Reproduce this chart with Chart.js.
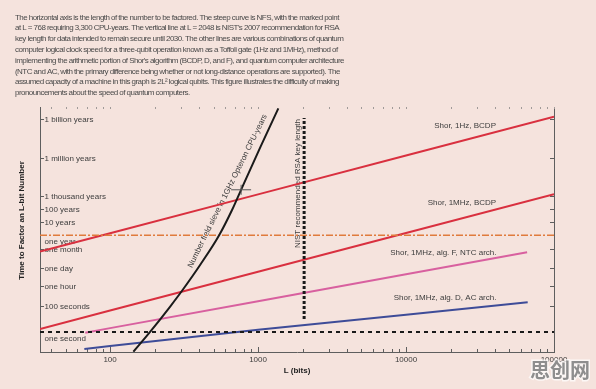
<!DOCTYPE html>
<html>
<head>
<meta charset="utf-8">
<script src="https://cdn.jsdelivr.net/npm/chart.js@4.4.1/dist/chart.umd.min.js"></script>
<style>
  html, body { margin: 0; padding: 0; background: #f5e3dd; }
</style>
</head>
<body>
<canvas id="quantumChart" width="596" height="389"></canvas>
<script>
// Caption above the plot
const captionLines = [
  'The horizontal axis is the length of the number to be factored. The steep curve is NFS, with the marked point',
  'at L = 768 requiring 3,300 CPU-years. The vertical line at L = 2048 is NIST\'s 2007 recommendation for RSA',
  'key length for data intended to remain secure until 2030. The other lines are various combinations of quantum',
  'computer logical clock speed for a three-qubit operation known as a Toffoli gate (1Hz and 1MHz), method of',
  'implementing the arithmetic portion of Shor\'s algorithm (BCDP, D, and F), and quantum computer architecture',
  '(NTC and AC, with the primary difference being whether or not long-distance operations are supported). The',
  'assumed capacity of a machine in this graph is 2L\u00b2 logical qubits. This figure illustrates the difficulty of making',
  'pronouncements about the speed of quantum computers.'
];

// Number field sieve curve (key length in bits, seconds)
const nfsBits = [143.7, 186.3, 254.7, 309, 405.7, 546.9, 667, 768, 1040, 1371];
const nfsSeconds = [0.029, 1.0, 93, 1770, 1.53e5, 3.25e7, 2.8e9, 1.04e11, 2.29e14, 2.15e17];

// Shor lines
const bcdpBits = [33.6, 100, 1000, 10000, 100000];
const shor1HzBCDP = [1.7e6, 4.5e7, 4.6e10, 4.7e13, 4.8e16];
const shor1MHzBCDP = [1.7, 45, 4.6e4, 4.7e7, 4.8e10];
const algFBits = [68, 100, 1000, 10000, 65800];
const shor1MHzAlgF = [0.87, 1.96, 240, 3.0e4, 1.5e6];
const algDBits = [67, 100, 1000, 10000, 66400];
const shor1MHzAlgD = [0.047, 0.08, 1.5, 21, 197];

// Reference lines
const nistBits = [2048, 2048];
const nistSeconds = [10, 3.8e16];
const fullRangeBits = [33.6, 100000];
const oneYearSeconds = [3.156e7, 3.156e7];
const oneSecondSeconds = [1, 1];
const markedBits = [768];
const markedSeconds = [1.04e11];

// Axis ticks
const xTickValues = [100, 1000, 10000, 100000];
const yTickValues = [3.156e16, 3.156e13, 3.156e10, 3.156e9, 3.156e8, 3.156e7, 2.63e6, 86400, 3600, 100, 1];
const yTickLabels = ['1 billion years', '1 million years', '1 thousand years', '100 years', '10 years',
  'one year', 'one month', 'one day', 'one hour', '100 seconds', 'one second'];
const labelsUnderLine = ['one year', 'one second'];

// Text next to the lines
const seriesNotes = [
  { text: 'Shor, 1Hz, BCDP', bits: 25060, seconds: 9.1e15 },
  { text: 'Shor, 1MHz, BCDP', bits: 23880, seconds: 1.0e10 },
  { text: 'Shor, 1MHz, alg. F, NTC arch.', bits: 17870, seconds: 1.48e6 },
  { text: 'Shor, 1MHz, alg. D, AC arch.', bits: 18360, seconds: 425 }
];

const FONT = "'Liberation Sans', Arial, sans-serif";
const TEXT = '#3c3c3c';
const AXIS = '#5e5e5e';

function pts(xs, ys) {
  return xs.map((v, i) => ({ x: v, y: ys[i] }));
}

function lineSet(xs, ys, color, extra) {
  return Object.assign({
    data: pts(xs, ys),
    showLine: true,
    borderColor: color,
    backgroundColor: color,
    borderWidth: 2,
    pointRadius: 0,
    fill: false
  }, extra || {});
}

// caption, inner ticks, right axis, y labels and notes
const decorPlugin = {
  id: 'decor',
  beforeDraw(chart) {
    const { ctx } = chart;
    ctx.save();
    ctx.font = '8px ' + FONT;
    ctx.fillStyle = '#4a4a4a';
    ctx.textBaseline = 'middle';
    ctx.textAlign = 'left';
    ctx.letterSpacing = '-0.55px';
    captionLines.forEach((line, i) => {
      ctx.fillText(line, 15, 17.4 + i * 10.8);
    });
    ctx.restore();
  },
  beforeDatasetsDraw(chart) {
    const { ctx, chartArea: a, scales: { x, y } } = chart;
    ctx.save();
    ctx.strokeStyle = AXIS;
    ctx.lineWidth = 1;
    ctx.beginPath();
    ctx.moveTo(a.right + 0.5, a.top);
    ctx.lineTo(a.right + 0.5, a.bottom);
    ctx.stroke();

    // log minor ticks, pointing into the plot
    for (let dec = 10; dec <= 100000; dec *= 10) {
      for (let k = 1; k <= 9; k++) {
        const v = dec * k;
        if (v < x.min || v > x.max) continue;
        const px = Math.round(x.getPixelForValue(v)) + 0.5;
        const len = k === 1 ? 5 : 3;
        ctx.strokeStyle = AXIS;
        ctx.beginPath();
        ctx.moveTo(px, a.bottom);
        ctx.lineTo(px, a.bottom - len);
        ctx.stroke();
        ctx.strokeStyle = '#a09a98';
        ctx.beginPath();
        ctx.moveTo(px, a.top);
        ctx.lineTo(px, a.top + 2);
        ctx.stroke();
      }
    }

    // y axis title, sitting a little above the middle as in the original
    ctx.save();
    ctx.translate(22, (a.top + a.bottom) / 2 - 9);
    ctx.rotate(-Math.PI / 2);
    ctx.font = 'bold 8px ' + FONT;
    ctx.fillStyle = '#222';
    ctx.textAlign = 'center';
    ctx.textBaseline = 'middle';
    ctx.fillText('Time to Factor an L-bit Number', 0, 0);
    ctx.restore();

    ctx.font = '8px ' + FONT;
    ctx.fillStyle = TEXT;
    ctx.textBaseline = 'middle';
    ctx.textAlign = 'left';
    yTickValues.forEach((v, i) => {
      const py = Math.round(y.getPixelForValue(v)) + 0.5;
      const under = labelsUnderLine.includes(yTickLabels[i]);
      if (!under) {
        ctx.strokeStyle = AXIS;
        ctx.beginPath();
        ctx.moveTo(a.left, py);
        ctx.lineTo(a.left + 4, py);
        ctx.moveTo(a.right, py);
        ctx.lineTo(a.right - 4, py);
        ctx.stroke();
      }
      ctx.fillText(yTickLabels[i], a.left + 4.5, under ? py + 6.5 : py);
    });

    ctx.textAlign = 'center';
    seriesNotes.forEach(n => {
      ctx.fillText(n.text, x.getPixelForValue(n.bits), y.getPixelForValue(n.seconds));
    });

    // rotated labels
    ctx.save();
    ctx.translate(x.getPixelForValue(622), y.getPixelForValue(8.3e10));
    ctx.rotate(-63.7 * Math.PI / 180);
    ctx.fillText('Number field sieve in 1GHz Opteron CPU-years', 0, 0);
    ctx.restore();

    ctx.save();
    ctx.translate(x.getPixelForValue(1862), y.getPixelForValue(3.2e11));
    ctx.rotate(-Math.PI / 2);
    ctx.fillText('NIST recommended RSA key length', 0, 0);
    ctx.restore();
    ctx.restore();
  },
  afterDraw(chart) {
    const { ctx } = chart;
    ctx.save();
    ctx.font = "bold 20px 'Noto Sans CJK SC', sans-serif";
    ctx.textAlign = 'center';
    ctx.textBaseline = 'middle';
    ctx.lineWidth = 3;
    ctx.strokeStyle = 'rgba(255,255,255,0.7)';
    ctx.strokeText('思创网', 560, 370);
    ctx.fillStyle = '#8e8e8e';
    ctx.fillText('思创网', 560, 370);
    ctx.restore();
  }
};

const ctx = document.getElementById('quantumChart');

new Chart(ctx, {
  type: 'scatter',
  data: {
    datasets: [
      lineSet(markedBits, markedSeconds, '#555', { showLine: false, pointStyle: 'line', pointRadius: 10, borderWidth: 1 }),
      lineSet(markedBits, markedSeconds, '#555', { showLine: false, pointStyle: 'line', rotation: 90, pointRadius: 5, borderWidth: 1 }),
      lineSet(nfsBits, nfsSeconds, '#1a1a1a', { cubicInterpolationMode: 'monotone' }),
      lineSet(nistBits, nistSeconds, '#1a1a1a', { borderWidth: 3, borderDash: [3, 2] }),
      lineSet(fullRangeBits, oneSecondSeconds, '#1a1a1a', { borderWidth: 2, borderDash: [4, 4] }),
      lineSet(fullRangeBits, oneYearSeconds, '#e07b3c', { borderWidth: 1.5, borderDash: [7, 2, 2, 2] }),
      lineSet(bcdpBits, shor1HzBCDP, '#d9303f'),
      lineSet(bcdpBits, shor1MHzBCDP, '#d9303f'),
      lineSet(algFBits, shor1MHzAlgF, '#d8609f'),
      lineSet(algDBits, shor1MHzAlgD, '#3e4c98')
    ]
  },
  options: {
    responsive: false,
    animation: false,
    events: [],
    layout: { padding: { left: 15, right: 42, top: 107, bottom: 0 } },
    plugins: {
      legend: { display: false },
      tooltip: { enabled: false },
      title: { display: false }
    },
    scales: {
      x: {
        type: 'logarithmic',
        min: 33.6,
        max: 100000,
        afterFit: s => { s.height = 37; },
        afterBuildTicks: s => { s.ticks = xTickValues.map(v => ({ value: v })); },
        ticks: {
          callback: v => String(v),
          autoSkip: false,
          maxRotation: 0,
          padding: 3,
          color: TEXT,
          font: { family: FONT, size: 8 }
        },
        grid: { display: false, drawTicks: false },
        border: { display: true, color: AXIS, width: 1 },
        title: {
          display: true,
          text: 'L (bits)',
          color: '#222',
          font: { family: FONT, size: 8, weight: 'bold' },
          padding: { top: 0, bottom: 13.5 }
        }
      },
      y: {
        type: 'logarithmic',
        min: 0.0277,
        max: 2.72e17,
        afterFit: s => { s.width = 25; },
        ticks: { display: false },
        grid: { display: false, drawTicks: false },
        border: { display: true, color: AXIS, width: 1 },
        title: { display: false }
      }
    }
  },
  plugins: [decorPlugin]
});
</script>
</body>
</html>
